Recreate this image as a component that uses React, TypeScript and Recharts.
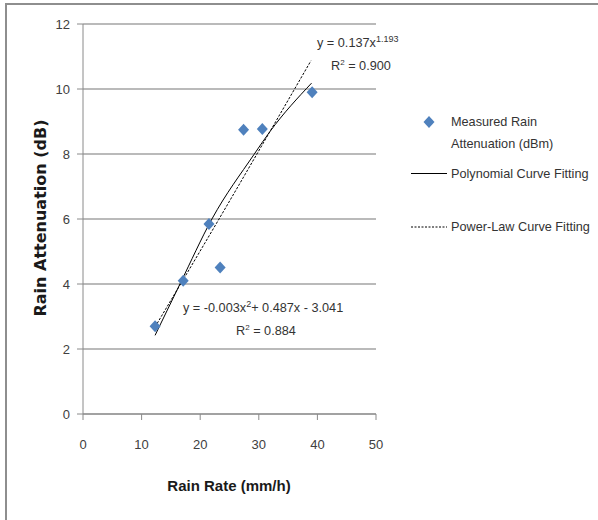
import React from 'react';
import { ComposedChart, Scatter, Line, XAxis, YAxis, CartesianGrid } from 'recharts';

const rainRate = [12.3, 17.1, 21.5, 23.4, 27.4, 30.6, 39.1];
const measuredAtt = [2.7, 4.1, 5.85, 4.51, 8.75, 8.77, 9.9];

const polyX = [12.3, 16.6, 22.0, 29.2, 31.9, 39.0];
const polyY = [2.42, 4.02, 6.0, 7.99, 8.69, 10.18];

const powerX = [12.3, 25.1, 31.9, 38.9];
const powerY = [2.68, 6.58, 8.69, 10.87];

const xTicks = [0, 10, 20, 30, 40, 50];
const yTicks = [0, 2, 4, 6, 8, 10, 12];

const measured = rainRate.map((x, i) => ({ x, y: measuredAtt[i] }));
const poly = polyX.map((x, i) => ({ x, y: polyY[i] }));
const power = powerX.map((x, i) => ({ x, y: powerY[i] }));

const BLUE = '#4F81BD';
const FONT = '"Liberation Sans", Arial, sans-serif';
const TXT = 12.7;

const Diamond = (props: any) => {
  const { cx, cy } = props;
  if (cx == null || cy == null) return null;
  const w = 5.5;
  const h = 6;
  return (
    <polygon
      points={`${cx},${cy - h} ${cx + w},${cy} ${cx},${cy + h} ${cx - w},${cy}`}
      fill={BLUE}
    />
  );
};

export default function App() {
  return (
    <div style={{ position: 'absolute', left: 0, top: 0, width: 598, height: 520, background: '#fff', overflow: 'hidden' }}>
      <div
        style={{
          position: 'absolute',
          left: 5,
          top: 3,
          width: 600,
          height: 530,
          borderTop: '2px solid #8e8e8e',
          borderLeft: '2px solid #8e8e8e',
          boxSizing: 'border-box',
        }}
      />
      <div style={{ position: 'absolute', left: 0, top: 0 }}>
        <ComposedChart width={598} height={520} margin={{ top: 24, right: 222, bottom: 76, left: 23 }}>
          <CartesianGrid vertical={false} stroke="#a3a3a3" strokeWidth={1.3} />
          <XAxis
            type="number"
            dataKey="x"
            domain={[0, 50]}
            ticks={xTicks}
            tickSize={6}
            tickMargin={20}
            height={30}
            stroke="#8a8a8a"
            tick={{ fill: '#404040', fontSize: 13, fontFamily: FONT }}
            allowDataOverflow
          />
          <YAxis
            type="number"
            dataKey="y"
            domain={[0, 12]}
            ticks={yTicks}
            tickSize={6}
            tickMargin={7}
            width={60}
            stroke="#8a8a8a"
            tick={{ fill: '#404040', fontSize: 13, fontFamily: FONT }}
            allowDataOverflow
          />
          <Line
            data={poly}
            dataKey="y"
            type="monotone"
            stroke="#000"
            strokeWidth={1}
            dot={false}
            activeDot={false}
            isAnimationActive={false}
          />
          <Line
            data={power}
            dataKey="y"
            type="monotone"
            stroke="#000"
            strokeWidth={1}
            strokeDasharray="2.5 1.5"
            dot={false}
            activeDot={false}
            isAnimationActive={false}
          />
          <Scatter data={measured} dataKey="y" fill={BLUE} shape={<Diamond />} isAnimationActive={false} />
        </ComposedChart>
      </div>
      <svg
        width={598}
        height={520}
        style={{ position: 'absolute', left: 0, top: 0, pointerEvents: 'none' }}
      >
        <text
          x={40}
          y={218}
          transform="rotate(-90 40 218)"
          textAnchor="middle"
          dominantBaseline="central"
          fontFamily='"DejaVu Sans", Verdana, sans-serif'
          fontWeight="bold"
          fontSize={16}
          fill="#1a1a1a"
        >
          Rain Attenuation (dB)
        </text>
        <text
          x={229}
          y={485}
          textAnchor="middle"
          dominantBaseline="central"
          fontFamily={FONT}
          fontWeight="bold"
          fontSize={15}
          fill="#1a1a1a"
        >
          Rain Rate (mm/h)
        </text>

        <text x={317} y={47} fontFamily={FONT} fontSize={TXT} fill="#333">
          y = 0.137x<tspan dy={-5} fontSize={9}>1.193</tspan>
        </text>
        <text x={331} y={70} fontFamily={FONT} fontSize={TXT} fill="#333">
          R<tspan dy={-5} fontSize={8}>2</tspan><tspan dy={5}> = 0.900</tspan>
        </text>

        <text x={183} y={312} fontFamily={FONT} fontSize={TXT} fill="#333">
          y = -0.003x<tspan dy={-5} fontSize={9}>2</tspan><tspan dy={5}>+ 0.487x - 3.041</tspan>
        </text>
        <text x={236} y={335} fontFamily={FONT} fontSize={TXT} fill="#333">
          R<tspan dy={-5} fontSize={8}>2</tspan><tspan dy={5}> = 0.884</tspan>
        </text>

        <polygon points="429,116 434.5,122 429,128 423.5,122" fill={BLUE} />
        <text x={451} y={122} dominantBaseline="central" fontFamily={FONT} fontSize={TXT} fill="#333">
          Measured Rain
        </text>
        <text x={451} y={144} dominantBaseline="central" fontFamily={FONT} fontSize={TXT} fill="#333">
          Attenuation (dBm)
        </text>
        <line x1={411} y1={173.5} x2={447} y2={173.5} stroke="#000" strokeWidth={1.2} />
        <text x={451} y={174} dominantBaseline="central" fontFamily={FONT} fontSize={TXT} fill="#333">
          Polynomial Curve Fitting
        </text>
        <line x1={411} y1={227} x2={447} y2={227} stroke="#000" strokeWidth={1} strokeDasharray="2 1.5" />
        <text x={451} y={227} dominantBaseline="central" fontFamily={FONT} fontSize={TXT} fill="#333">
          Power-Law Curve Fitting
        </text>
      </svg>
    </div>
  );
}
